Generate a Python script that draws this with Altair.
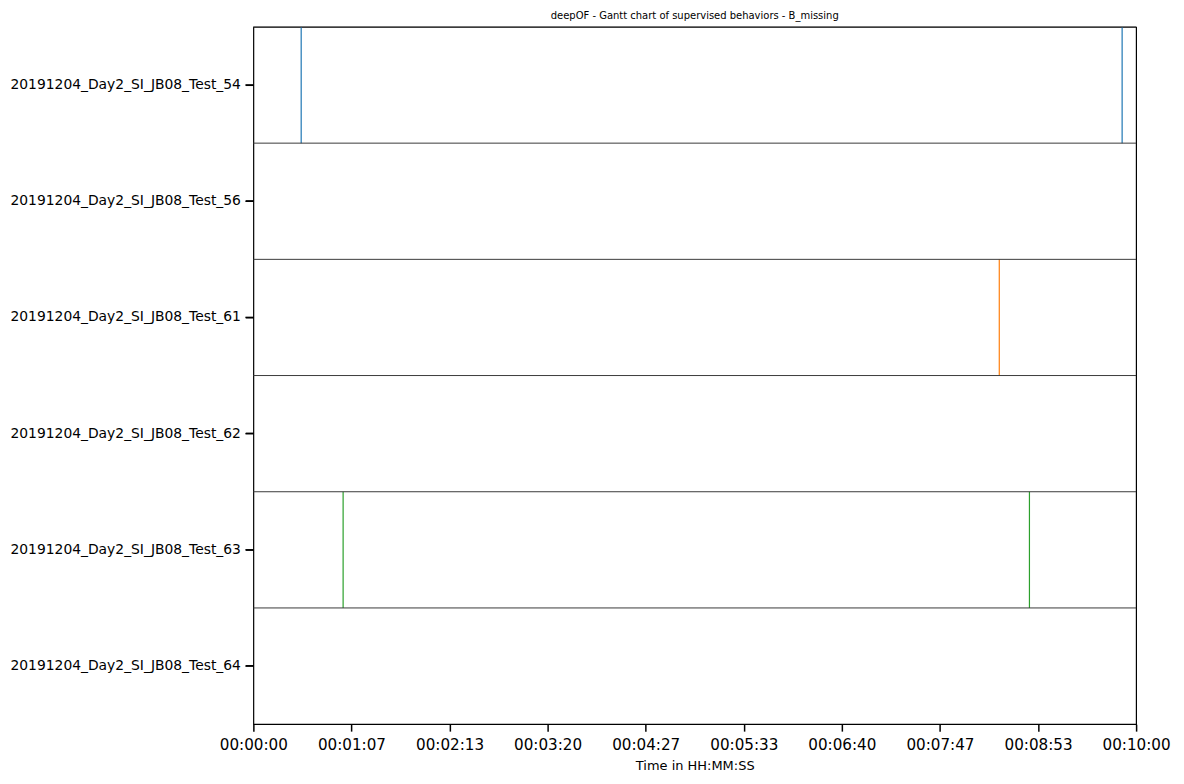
import altair as alt
import pandas as pd

videos = [
    "20191204_Day2_SI_JB08_Test_54",
    "20191204_Day2_SI_JB08_Test_56",
    "20191204_Day2_SI_JB08_Test_61",
    "20191204_Day2_SI_JB08_Test_62",
    "20191204_Day2_SI_JB08_Test_63",
    "20191204_Day2_SI_JB08_Test_64",
]
event_videos = [
    "20191204_Day2_SI_JB08_Test_54",
    "20191204_Day2_SI_JB08_Test_54",
    "20191204_Day2_SI_JB08_Test_61",
    "20191204_Day2_SI_JB08_Test_63",
    "20191204_Day2_SI_JB08_Test_63",
]
event_seconds = [32.5, 590.5, 507.0, 61.0, 527.5]
color_videos = [
    "20191204_Day2_SI_JB08_Test_54",
    "20191204_Day2_SI_JB08_Test_61",
    "20191204_Day2_SI_JB08_Test_63",
]
color_values = ["#1f77b4", "#ff7f0e", "#2ca02c"]
x_ticks = [600 * i / 9 for i in range(10)]

rows_df = pd.DataFrame({"video": videos})
ev_df = pd.DataFrame({"video": event_videos, "t": event_seconds})

FONT = "DejaVu Sans"
band = alt.Scale(type="band", paddingInner=0, paddingOuter=0, domain=videos)

y_axis = alt.Axis(
    title=None, labelFontSize=13.9, labelFont=FONT, labelColor="black", labelLimit=0,
    ticks=True, tickSize=8, tickWidth=1.5, tickColor="black",
    labelPadding=5, domain=False, grid=False,
)

x_enc = alt.X(
    "t:Q",
    scale=alt.Scale(domain=[0, 600], nice=False, zero=False),
    axis=alt.Axis(
        title="Time in HH:MM:SS", values=x_ticks,
        labelExpr="timeFormat(datetime(2000,0,1,0,0,round(datum.value)), '%H:%M:%S')",
        labelFontSize=15.2, labelFont=FONT, labelColor="black",
        titleFontSize=13, titleFont=FONT, titleFontWeight="normal", titleColor="black",
        tickSize=7, tickWidth=1.5, tickColor="black", labelPadding=6, titlePadding=7,
        domain=False, grid=False, labelFlush=False,
    ),
)

events = alt.Chart(ev_df).mark_rect(strokeWidth=1.2, fillOpacity=0).encode(
    x=x_enc,
    x2="t:Q",
    y=alt.Y("video:N", sort=videos, scale=band, axis=y_axis),
    stroke=alt.Stroke("video:N", scale=alt.Scale(domain=color_videos, range=color_values), legend=None),
)

separators = alt.Chart(rows_df).mark_rule(color="#3a3a3a", strokeWidth=1).encode(
    y=alt.Y("video:N", sort=videos, bandPosition=0, scale=band, axis=y_axis),
)

y_ticks = alt.Chart(rows_df).mark_rule(color="black", strokeWidth=1.5).encode(
    y=alt.Y("video:N", sort=videos, scale=band, axis=y_axis),
    x=alt.value(-8),
    x2=alt.value(0),
)

chart = alt.layer(events, separators, y_ticks).properties(
    width=885, height=699,
    title=alt.Title("deepOF - Gantt chart of supervised behaviors - B_missing",
                    fontSize=10, font=FONT, fontWeight="normal", color="black", offset=5),
    padding={"left": 2, "top": 2, "right": 5, "bottom": 5},
).configure_view(stroke="black", strokeWidth=1.2)

chart.save("out.html", embed_options={"renderer": "svg", "actions": False})
